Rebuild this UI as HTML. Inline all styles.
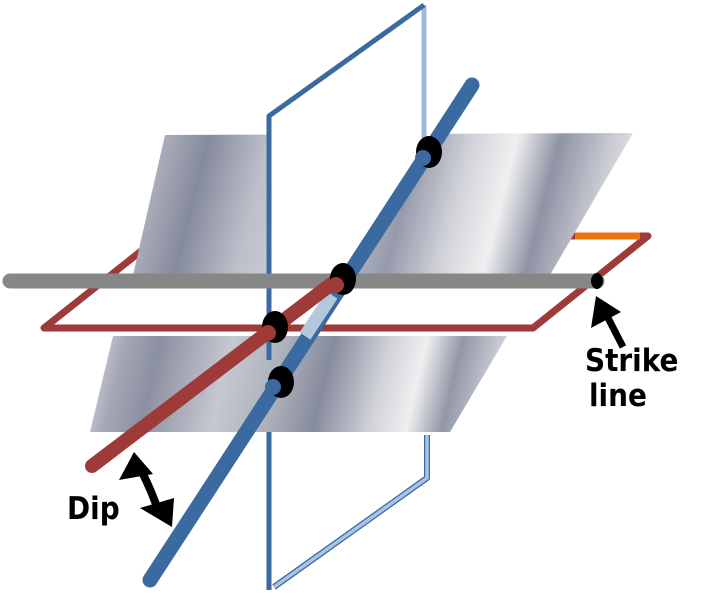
<!DOCTYPE html>
<html><head><style>
html,body{margin:0;padding:0;background:#fff;}
svg{display:block;}
text{font-family:"DejaVu Sans Condensed","DejaVu Sans","Liberation Sans",sans-serif;font-weight:bold;fill:#000;}
</style></head><body>
<svg width="714" height="599" viewBox="0 0 714 599" xmlns="http://www.w3.org/2000/svg">
<defs>
<linearGradient id="gu" gradientUnits="userSpaceOnUse" x1="133" y1="140" x2="640" y2="270">
<stop offset="0" stop-color="#e0e1e4"/>
<stop offset="0.06" stop-color="#a9acb8"/>
<stop offset="0.14" stop-color="#858a9d"/>
<stop offset="0.25" stop-color="#bcbfc9"/>
<stop offset="0.36" stop-color="#cfd1d7"/>
<stop offset="0.46" stop-color="#b3b6c1"/>
<stop offset="0.53" stop-color="#959aab"/>
<stop offset="0.63" stop-color="#d3d4da"/>
<stop offset="0.71" stop-color="#f0f0f1"/>
<stop offset="0.79" stop-color="#8e93a5"/>
<stop offset="0.89" stop-color="#cbcdd3"/>
<stop offset="1" stop-color="#ffffff"/>
</linearGradient>
<linearGradient id="gl" gradientUnits="userSpaceOnUse" x1="90" y1="340" x2="510" y2="440">
<stop offset="0" stop-color="#dcdde1"/>
<stop offset="0.08" stop-color="#a3a7b5"/>
<stop offset="0.16" stop-color="#8b90a1"/>
<stop offset="0.32" stop-color="#c6c8d0"/>
<stop offset="0.45" stop-color="#abafba"/>
<stop offset="0.55" stop-color="#868b9d"/>
<stop offset="0.68" stop-color="#d2d3d9"/>
<stop offset="0.76" stop-color="#efeff0"/>
<stop offset="0.84" stop-color="#9297a8"/>
<stop offset="0.93" stop-color="#cbcdd3"/>
<stop offset="1" stop-color="#f5f5f6"/>
</linearGradient>
</defs>

<polyline points="150,244 44,328 533,328 648,236 160,236" fill="none" stroke="#9e3a38" stroke-width="7" stroke-linejoin="round"/>

<polygon points="165,135 633,133 550,275 133,275" fill="url(#gu)"/>
<polygon points="270,113 424,3 445,3 445,130 345,280 270,280" fill="#fff"/>

<line x1="424" y1="5" x2="424" y2="140" stroke="#9dbbe0" stroke-width="5"/>
<polyline points="269,590 269,116 424,5" fill="none" stroke="#3a6a9f" stroke-width="5" stroke-linejoin="round"/>

<line x1="575" y1="236" x2="640" y2="236" stroke="#e8750f" stroke-width="7"/>
<line x1="44" y1="328" x2="533" y2="328" stroke="#9e3a38" stroke-width="7"/>

<line x1="10" y1="281" x2="597" y2="281" stroke="#878787" stroke-width="15" stroke-linecap="round"/>
<ellipse cx="597" cy="281" rx="6" ry="8" fill="#000"/>

<polygon points="113,336 507,336 450,432 90,432" fill="url(#gl)"/>
<line x1="269" y1="336" x2="269" y2="360" stroke="#3a6a9f" stroke-width="5"/>

<polyline points="427,435 427,478 274,587" fill="none" stroke="#3a6a9f" stroke-width="6" stroke-linejoin="round"/>
<polyline points="427,435 427,478 274,587" fill="none" stroke="#a9c4e4" stroke-width="3.5" stroke-linejoin="round"/>

<line x1="472" y1="85" x2="150" y2="580" stroke="#3a6a9f" stroke-width="15" stroke-linecap="round"/>
<line x1="332" y1="295" x2="305" y2="336" stroke="#b5c7dd" stroke-width="13"/>

<line x1="92" y1="466" x2="338" y2="279" stroke="#9e3a38" stroke-width="14" stroke-linecap="round"/>

<g>
<ellipse cx="429" cy="152" rx="13" ry="16" fill="#000"/>
<circle cx="423" cy="158" r="8" fill="#3a6a9f"/>
<ellipse cx="343" cy="279" rx="13" ry="16" fill="#000"/>
<circle cx="336" cy="285" r="8" fill="#9e3a38"/>
<ellipse cx="275" cy="327" rx="13" ry="16" fill="#000"/>
<circle cx="268" cy="333" r="8" fill="#9e3a38"/>
<ellipse cx="281" cy="382" rx="13" ry="16" fill="#000"/>
<circle cx="273" cy="387" r="8" fill="#3a6a9f"/>
</g>

<line x1="623" y1="347" x2="606" y2="314" stroke="#000" stroke-width="7"/>
<polygon points="596,296 591,328 621,312" fill="#000"/>
<text x="585" y="371" font-size="31">Strike</text>
<text x="589" y="406" font-size="31">line</text>

<path d="M142,472 Q152,492 158,510" fill="none" stroke="#000" stroke-width="8"/>
<polygon points="134,452 119,480 153,474" fill="#000"/>
<polygon points="172,527 140,508 174,498" fill="#000"/>
<text x="67" y="519" font-size="31">Dip</text>
</svg>
</body></html>
